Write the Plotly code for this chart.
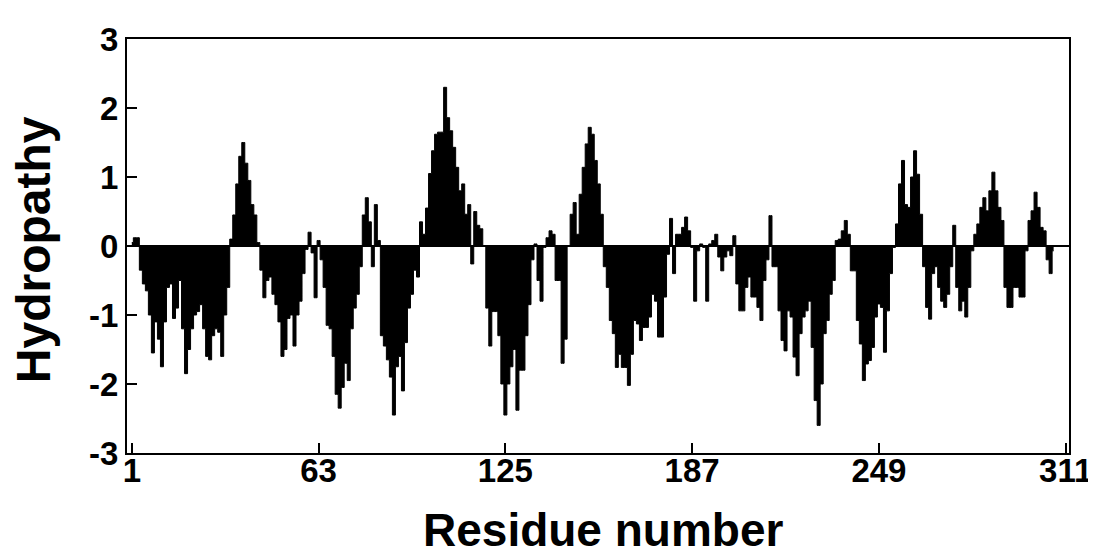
import plotly.graph_objects as go

hydropathy = [
    0.05, 0.12, 0.12, -0.35, -0.55, -0.65, -1.0, -1.55, -1.1, -1.35,
    -1.75, -1.1, -0.6, -0.55, -1.05, -0.9, -0.5, -1.2, -1.85, -1.5,
    -1.2, -1.0, -0.95, -0.85, -1.2, -1.6, -1.65, -1.3, -1.2, -1.25,
    -1.6, -1.0, -0.6, 0.1, 0.45, 0.9, 1.3, 1.5, 1.2, 0.95,
    0.6, 0.45, 0.05, -0.35, -0.75, -0.5, -0.45, -0.7, -0.85, -1.1,
    -1.6, -1.5, -1.05, -1.0, -1.45, -1.0, -0.8, -0.4, -0.05, 0.2,
    -0.1, -0.75, 0.08, -0.2, -0.6, -1.15, -1.2, -1.6, -2.15, -2.35,
    -2.05, -1.7, -1.95, -1.2, -0.9, -0.7, -0.3, 0.45, 0.7, 0.35,
    -0.3, 0.6, 0.08, -1.3, -1.45, -1.65, -1.9, -2.45, -1.75, -1.6,
    -2.1, -1.4, -0.9, -0.7, -0.35, -0.45, 0.35, 0.17, 0.55, 1.05,
    1.38, 1.62, 1.65, 1.65, 2.3, 1.86, 1.67, 1.43, 1.14, 0.8,
    0.9, 0.46, 0.6, -0.26, 0.5, 0.3, 0.25, 0.0, -0.9, -1.45,
    -0.95, -0.95, -1.3, -2.0, -2.45, -2.0, -1.75, -1.5, -2.38, -1.8,
    -1.8, -1.3, -0.85, -0.2, 0.03, -0.5, -0.8, -0.02, 0.12, 0.22,
    0.17, -0.5, -0.5, -1.7, -1.35, 0.0, 0.46, 0.63, 0.17, 0.75,
    1.14, 1.48, 1.72, 1.62, 1.24, 0.9, 0.46, -0.3, -0.6, -1.08,
    -1.27, -1.76, -1.57, -1.76, -1.76, -2.02, -1.57, -1.08, -1.13, -1.37,
    -1.18, -1.18, -1.03, -0.7, -0.8, -1.32, -1.32, -0.74, -0.12, 0.4,
    -0.4, 0.17, 0.17, 0.27, 0.42, 0.22, -0.02, -0.8, -0.07, 0.03,
    -0.02, -0.8, 0.03, 0.08, 0.17, -0.16, -0.36, -0.16, -0.07, -0.14,
    0.15, -0.55, -0.94, -0.94, -0.6, -0.45, -0.74, -0.74, -0.89, -1.08,
    -0.5, -0.2, 0.44, -0.3, -0.3, -0.94, -1.37, -1.52, -0.94, -1.03,
    -1.61, -1.88, -1.27, -1.03, -0.94, -0.8, -1.47, -2.24, -2.6, -2.0,
    -1.27, -1.08, -0.7, -0.5, 0.08, 0.1, 0.22, 0.37, 0.17, -0.36,
    -0.36, -1.08, -1.42, -1.95, -1.71, -1.66, -1.47, -1.03, -0.84, -0.89,
    -1.54, -0.94, -0.4, -0.02, 0.32, 0.9, 1.24, 0.6, 0.56, 1.0,
    1.38, 1.04, 0.46, -0.3, -0.89, -1.06, -0.4, -0.3, -0.6, -0.8,
    -0.89, -0.7, -0.3, 0.3, -0.6, -0.94, -0.8, -1.03, -0.6, -0.07,
    0.17, 0.32, 0.56, 0.7, 0.51, 0.8, 1.07, 0.8, 0.56, 0.37,
    -0.6, -0.89, -0.89, -0.6, -0.6, -0.74, -0.74, -0.07, 0.37, 0.51,
    0.78, 0.56, 0.27, 0.22, -0.2, -0.4, -0.07,
]
residues = list(range(1, len(hydropathy) + 1))

x_tick_vals = [1, 63, 125, 187, 249, 311]
x_tick_text = ["1", "63", "125", "187", "249", "311"]
y_tick_vals = [-3, -2, -1, 0, 1, 2, 3]
y_tick_text = ["-3", "-2", "-1", "0", "1", "2", "3"]

FONT = "Liberation Sans, Arial, Helvetica, sans-serif"

fig = go.Figure()
fig.add_trace(go.Scatter(
    x=residues, y=hydropathy, mode="lines",
    line=dict(color="black", width=1, shape="hvh"),
    fill="tozeroy", fillcolor="black",
    showlegend=False, hoverinfo="x+y",
))

fig.update_layout(
    width=1096, height=556,
    margin=dict(l=119, r=29, t=31, b=111),
    paper_bgcolor="white", plot_bgcolor="white",
    font=dict(family=FONT, color="black"),
    annotations=[
        dict(text="Residue number", x=0.5, y=0, xref="paper", yref="paper",
             xanchor="center", yanchor="top", yshift=-49, xshift=5, showarrow=False,
             font=dict(family=FONT, size=46, color="black", weight="bold")),
        dict(text="Hydropathy", x=0, y=0.49, xref="paper", yref="paper",
             xanchor="center", yanchor="middle", xshift=-94, textangle=-90,
             showarrow=False,
             font=dict(family=FONT, size=48, color="black", weight="bold")),
    ],
)

fig.update_xaxes(
    range=[-0.6, 312.1], tickmode="array", tickvals=x_tick_vals, ticktext=x_tick_text,
    ticks="inside", ticklen=10, tickwidth=1.5, tickcolor="black",
    ticklabelstandoff=-13,
    showline=True, linecolor="black", linewidth=2, mirror=True,
    showgrid=False, zeroline=False,
    tickfont=dict(family=FONT, size=33, color="black", weight="bold"),
)
fig.update_yaxes(
    range=[-3, 3], tickmode="array", tickvals=y_tick_vals, ticktext=y_tick_text,
    ticks="inside", ticklen=10, tickwidth=1.5, tickcolor="black",
    showline=True, linecolor="black", linewidth=2, mirror=True,
    showgrid=False, zeroline=True, zerolinecolor="black", zerolinewidth=2,
    tickfont=dict(family=FONT, size=33, color="black", weight="bold"),
)

fig.write_html("out.html")
